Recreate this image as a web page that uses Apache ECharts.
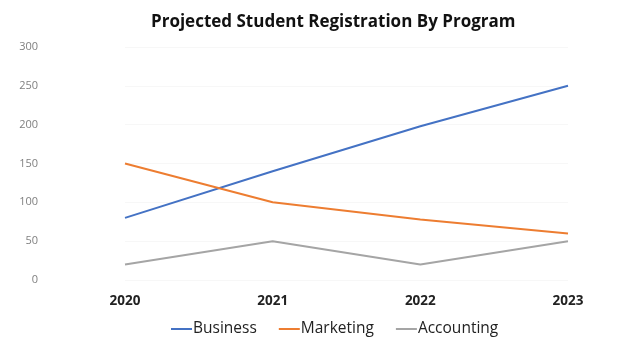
<!DOCTYPE html>
<html>
<head>
<meta charset="utf-8">
<script src="https://cdn.jsdelivr.net/npm/echarts@6/dist/echarts.min.js"></script>
<style>
  html, body { margin: 0; padding: 0; background: #ffffff; }
  #chart { width: 643px; height: 345px; }
</style>
</head>
<body>
<div id="chart"></div>
<script>
// Years on the category axis
const years = ['2020', '2021', '2022', '2023'];

// Projected registrations per program
const business = [80, 140, 198, 250];
const marketing = [150, 100, 78, 60];
const accounting = [20, 50, 20, 50];

const chart = echarts.init(document.getElementById('chart'));

const fontFamily = '"Open Sans", "Liberation Sans", sans-serif';

function lineSeries(name, data, color) {
  return {
    name: name,
    type: 'line',
    data: data,
    symbol: 'none',
    smooth: false,
    lineStyle: { color: color, width: 2 },
    itemStyle: { color: color }
  };
}

chart.setOption({
  animation: false,
  backgroundColor: '#ffffff',
  title: {
    text: 'Projected Student Registration By Program',
    left: 146,
    top: 9,
    textStyle: { fontFamily: fontFamily, fontSize: 17, fontWeight: 'bold', color: '#111111' }
  },
  legend: {
    bottom: 3,
    left: 166,
    itemWidth: 21,
    itemHeight: 2,
    itemGap: 22,
    icon: 'rect',
    textStyle: { fontFamily: fontFamily, fontSize: 15.5, color: '#222222', padding: [0, 0, 0, -4] },
    data: ['Business', 'Marketing', 'Accounting']
  },
  grid: { left: 125, right: 75, top: 47, bottom: 65 },
  xAxis: {
    type: 'category',
    data: years,
    boundaryGap: false,
    axisLine: { show: false },
    axisTick: { show: false },
    axisLabel: { fontFamily: fontFamily, fontSize: 13.5, fontWeight: 'bold', color: '#222222', margin: 14 }
  },
  yAxis: {
    type: 'value',
    min: 0,
    max: 300,
    interval: 50,
    axisLine: { show: false },
    axisTick: { show: false },
    splitLine: { show: true, lineStyle: { color: '#f7f7f7', width: 1 } },
    axisLabel: { fontFamily: fontFamily, fontSize: 11, color: '#808080', margin: 87 }
  },
  series: [
    lineSeries('Business', business, '#4472C4'),
    lineSeries('Marketing', marketing, '#ED7D31'),
    lineSeries('Accounting', accounting, '#A5A5A5')
  ]
});
</script>
</body>
</html>
